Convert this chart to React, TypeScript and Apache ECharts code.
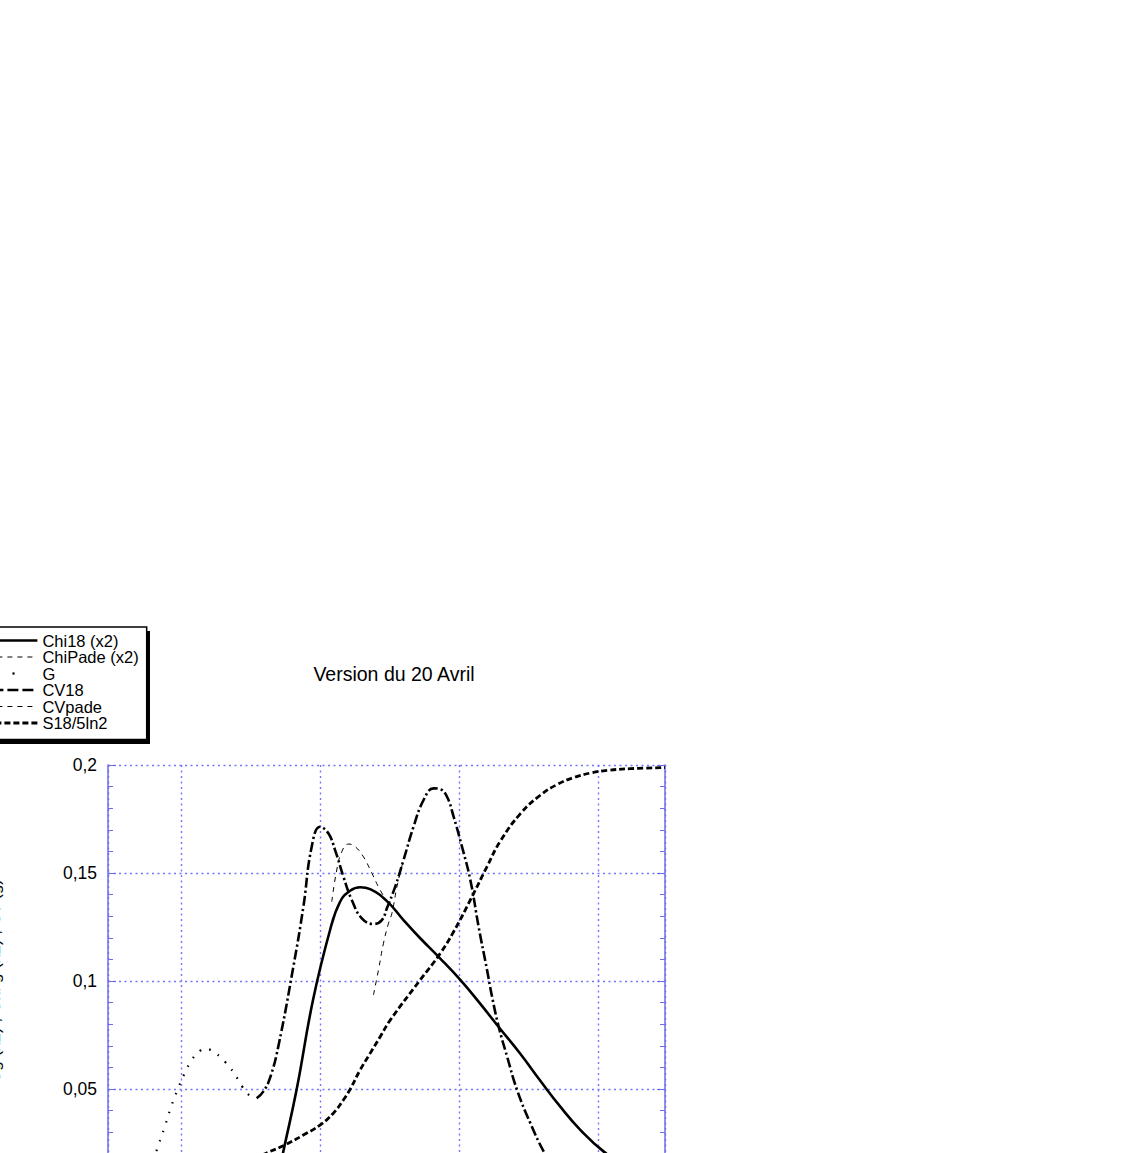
import { useEffect, useRef } from 'react';
import * as echarts from 'echarts';

// x is log, y is linear; pairs are [x, y]
const chi18 = [
    [0.48, 0.004], [0.542, 0.0204], [0.68, 0.05], [0.89, 0.0912],
    [1.18, 0.1236], [1.393, 0.1367], [1.644, 0.1418], [1.94, 0.1434], [2.289, 0.1425],
    [3.02, 0.137], [3.975, 0.1282], [5.24, 0.1198], [7.3, 0.1104], [10.17, 0.1005],
    [14.16, 0.0894], [19.18, 0.0787], [27.5, 0.0662], [38.3, 0.0537], [53.3, 0.0417],
    [74.2, 0.031], [109, 0.021], [170, 0.0125], [300, 0.0069],
];

const chiPade = [
    [1.214, 0.1367], [1.318, 0.1514], [1.433, 0.1599], [1.598, 0.1634], [1.786, 0.1622],
    [2.049, 0.1575], [2.355, 0.1499], [2.703, 0.1421], [3.1, 0.1362], [3.47, 0.1333],
];

// low temperature part of G; above that G lies on CV18
const gLow = [
    [0.06, 0.0125], [0.0687, 0.0236], [0.0767, 0.0325], [0.0847, 0.0413], [0.0951, 0.0499],
    [0.107, 0.0575], [0.1194, 0.0633], [0.137, 0.0676], [0.151, 0.0685], [0.164, 0.0681],
    [0.1766, 0.0668], [0.193, 0.0647], [0.2084, 0.0625], [0.2252, 0.0599], [0.2417, 0.0573],
    [0.2583, 0.0542], [0.278, 0.0508], [0.305, 0.0475],
];

const cv18 = [
    [0.3506, 0.0457], [0.391, 0.0488], [0.4366, 0.055], [0.501, 0.0696], [0.643, 0.1066],
    [0.759, 0.1344], [0.871, 0.1622], [1.0, 0.1714], [1.147, 0.1684], [1.282, 0.1606],
    [1.471, 0.1483], [1.69, 0.1375], [1.995, 0.129], [2.417, 0.1264], [2.778, 0.1282],
    [3.02, 0.1337], [3.465, 0.1437], [3.975, 0.156], [4.69, 0.1714], [5.54, 0.1838],
    [6.53, 0.1892], [7.3, 0.1888], [8.16, 0.1853], [9.1, 0.1761], [10.45, 0.1622],
    [12.0, 0.1468], [13.77, 0.125], [15.82, 0.1051], [17.19, 0.0927], [19.18, 0.0788],
    [22.04, 0.065], [26.0, 0.0495], [32.4, 0.0341], [40.4, 0.021], [50.5, 0.0105],
    [65, 0.004],
];

const cvPade = [
    [2.417, 0.0935], [2.627, 0.1051], [2.854, 0.1175], [3.1, 0.1267], [3.28, 0.1313],
    [3.6, 0.145], [3.975, 0.156],
];

const s18 = [
    [0.19, 0.0125], [0.314, 0.017], [0.4136, 0.0204], [0.56, 0.0241], [0.759, 0.0287],
    [1.0, 0.0333], [1.246, 0.0388], [1.471, 0.0449], [1.644, 0.0499], [1.94, 0.0588],
    [2.289, 0.0665], [2.703, 0.0742], [3.19, 0.0819], [5.24, 0.1005],
    [7.3, 0.1128], [9.1, 0.1228], [12.0, 0.1375], [15.82, 0.153], [19.72, 0.1648],
    [27.5, 0.1775], [38.3, 0.1861], [50.5, 0.191], [66.4, 0.1942], [87.5, 0.1963],
    [115.5, 0.1975], [170, 0.1983], [300, 0.1988],
];

// small ticks along the top edge
const topTicks = [
    0.04, 0.05, 0.06, 0.07, 0.08, 0.09, 0.1,
    0.2, 0.3, 0.4, 0.5, 0.6, 0.7, 0.8, 0.9, 1,
    2, 3, 4, 5, 6, 7, 8, 9, 10,
    20, 30, 40, 50, 60, 70, 80, 90, 100,
    200,
];

const font = '"Liberation Sans", Arial, sans-serif';
const axisBlue = '#6c6cf0';
const gridBlue = '#7474ff';

const lineSeries = (name: string, data: number[][], width: number, type: any) => ({
    name,
    type: 'line',
    data,
    symbol: 'none',
    showSymbol: false,
    smooth: 0.45,
    xAxisIndex: 0,
    yAxisIndex: 0,
    lineStyle: { color: '#000', width, type },
    itemStyle: { color: '#000' },
});

const yLabel = (v: number) => (v === 0 ? '0' : String(Number(v.toFixed(2))).replace('.', ','));

export default function App() {
    const chartRef = useRef<HTMLDivElement>(null);

    useEffect(() => {
        const myChart = echarts.init(chartRef.current, null, { renderer: 'svg' });

        myChart.setOption({
            animation: false,
            title: {
                text: 'Version du 20 Avril',
                left: 394,
                top: 664,
                textAlign: 'center',
                padding: 0,
                textStyle: { fontSize: 19.5, fontWeight: 'normal', color: '#000', fontFamily: font },
            },
            legend: {
                orient: 'vertical',
                left: -32,
                top: 627,
                padding: [5, 8, 8, 8],
                itemWidth: 60,
                itemHeight: 15,
                itemGap: -0.5,
                backgroundColor: '#fff',
                borderColor: '#000',
                borderWidth: 1.5,
                selectedMode: false,
                textStyle: { fontSize: 16.5, lineHeight: 15, color: '#000', fontFamily: font },
                itemStyle: { color: 'rgba(0,0,0,0)', borderWidth: 0, opacity: 0 },
                lineStyle: { width: 'inherit', type: 'inherit', color: '#000' },
                data: [
                    { name: 'Chi18 (x2)' },
                    { name: 'ChiPade (x2)' },
                    // one dot in the sample, like the original key
                    { name: 'G', lineStyle: { type: [2.2, 200], dashOffset: -35 } },
                    { name: 'CV18', lineStyle: { type: [11, 4] } },
                    { name: 'CVpade' },
                    { name: 'S18/5ln2' },
                ],
                z: 10,
            },
            graphic: [
                // drop shadow of the legend box
                { type: 'rect', shape: { x: -28, y: 631, width: 178, height: 113 }, style: { fill: '#000' }, z: 1 },
            ],
            grid: { left: 108, top: 765, width: 557, height: 432, containLabel: false, outerBoundsMode: 'none' },
            xAxis: [
                {
                    type: 'log',
                    logBase: 10,
                    min: 0.03,
                    max: 300,
                    position: 'bottom',
                    axisLine: { lineStyle: { color: axisBlue, width: 1.5 } },
                    axisTick: { inside: true, length: 6, lineStyle: { color: axisBlue } },
                    axisLabel: { color: '#000', fontSize: 17, fontFamily: font },
                    splitLine: { show: true, lineStyle: { color: gridBlue, width: 1.4, type: [2, 3.5] } },
                },
                {
                    type: 'log',
                    logBase: 10,
                    min: 0.03,
                    max: 300,
                    position: 'top',
                    axisLine: { lineStyle: { color: axisBlue, width: 1.5 } },
                    axisTick: { inside: true, length: 4, customValues: topTicks, lineStyle: { color: axisBlue } },
                    axisLabel: { show: false },
                    splitLine: { show: false },
                },
            ],
            yAxis: [
                {
                    type: 'value',
                    min: 0,
                    max: 0.2,
                    interval: 0.05,
                    position: 'left',
                    name: 'Cg (x2) , Chi g (x2) , Cv (g)',
                    nameLocation: 'middle',
                    nameRotate: 90,
                    nameGap: 105,
                    nameTextStyle: { fontSize: 17, color: '#000', fontFamily: font },
                    axisLine: { show: true, lineStyle: { color: axisBlue, width: 1.5 } },
                    axisTick: { show: true, inside: true, length: 8, lineStyle: { color: axisBlue } },
                    minorTick: { show: true, splitNumber: 5, length: 5, lineStyle: { color: axisBlue } },
                    axisLabel: { color: '#000', fontSize: 17.5, fontFamily: font, margin: 11, formatter: yLabel },
                    splitLine: { show: true, lineStyle: { color: gridBlue, width: 1.4, type: [2, 3.5] } },
                },
                {
                    type: 'value',
                    min: 0,
                    max: 0.2,
                    interval: 0.05,
                    position: 'right',
                    axisLine: { show: true, lineStyle: { color: axisBlue, width: 1.5 } },
                    axisTick: { show: true, inside: true, length: 8, lineStyle: { color: axisBlue } },
                    minorTick: { show: true, splitNumber: 5, length: 5, lineStyle: { color: axisBlue } },
                    axisLabel: { show: false },
                    splitLine: { show: false },
                },
            ],
            series: [
                lineSeries('Chi18 (x2)', chi18, 2.6, 'solid'),
                lineSeries('ChiPade (x2)', chiPade, 1, [5, 5]),
                lineSeries('G', [...gLow, cv18[0]], 2.2, [1.6, 8.4]),
                // G and CV18 overlap from here on, which gives the dash-dot look
                lineSeries('CV18', cv18, 2.6, [10, 3, 2.2, 3]),
                lineSeries('CVpade', cvPade, 1, [5, 5]),
                lineSeries('S18/5ln2', s18, 2.8, [6, 3]),
            ],
        });

        return () => {
            myChart.dispose();
        };
    }, []);

    return <div ref={chartRef} style={{ position: 'absolute', left: 0, top: 0, width: 1148, height: 1153 }} />;
}
